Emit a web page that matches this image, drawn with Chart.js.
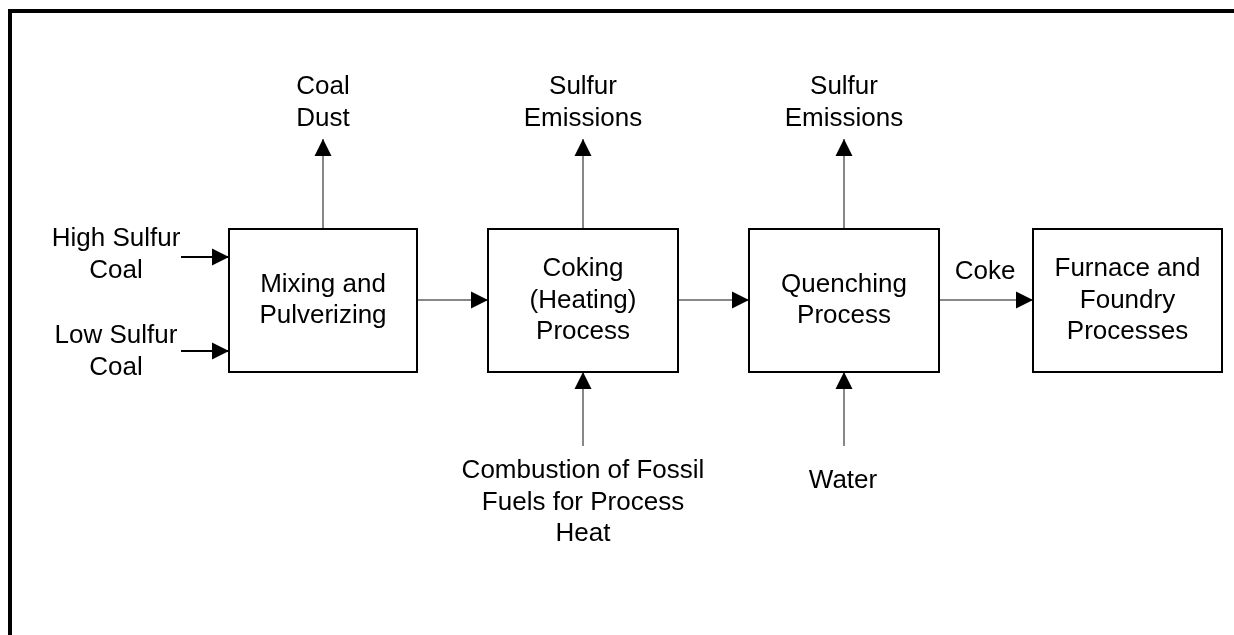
<!DOCTYPE html>
<html lang="en">
<head>
    <meta charset="UTF-8">
    <title>Coke Production Flow</title>
    <script src="https://cdn.jsdelivr.net/npm/chart.js"></script>
    <style>
        html, body {
            margin: 0;
            padding: 0;
            background: #fff;
        }
        .chart-container {
            width: 1234px;
            height: 635px;
            position: relative;
        }
    </style>
</head>
<body>
    <div class="chart-container">
        <canvas id="flowChart"></canvas>
    </div>

    <script>
        // diagram units: x 0..1234, y 0..635 (top down)
        const boxLabels = [
            ['Mixing and', 'Pulverizing'],
            ['Coking', '(Heating)', 'Process'],
            ['Quenching', 'Process'],
            ['Furnace and', 'Foundry', 'Processes']
        ];
        const boxLeft = [229, 488, 749, 1033];
        const boxRight = [417, 678, 939, 1222];
        const boxTop = [229, 229, 229, 229];
        const boxBottom = [372, 372, 372, 372];

        const arrowStartX = [181, 181, 417, 678, 939, 323, 583, 844, 583, 844];
        const arrowStartY = [257, 351, 300, 300, 300, 229, 229, 229, 446, 446];
        const arrowEndX   = [229, 229, 488, 749, 1033, 323, 583, 844, 583, 844];
        const arrowEndY   = [257, 351, 300, 300, 300, 139, 139, 139, 372, 372];
        const arrowWeight = [2, 2, 1, 1, 1, 1, 1, 1, 1, 1];

        const labelText = [
            ['Coal', 'Dust'],
            ['Sulfur', 'Emissions'],
            ['Sulfur', 'Emissions'],
            ['High Sulfur', 'Coal'],
            ['Low Sulfur', 'Coal'],
            ['Coke'],
            ['Combustion of Fossil', 'Fuels for Process', 'Heat'],
            ['Water']
        ];
        const labelX = [323, 583, 844, 116, 116, 985, 583, 843];
        const labelY = [87, 87, 87, 239, 336, 272, 471, 481];

        const frameX = [10, 10, 1234];
        const frameY = [635, 11, 11];

        const LINE_GAP = 31.5;
        const FONT = "26px 'Liberation Sans', Arial, Helvetica, sans-serif";

        const datasets = [];

        datasets.push({
            label: 'frame',
            data: frameX.map((x, i) => ({ x: x, y: frameY[i] })),
            borderColor: '#000',
            borderWidth: 4,
            borderJoinStyle: 'miter'
        });

        boxLabels.forEach((lines, i) => {
            datasets.push({
                label: 'box' + i,
                data: [
                    { x: boxLeft[i], y: boxTop[i] },
                    { x: boxRight[i], y: boxTop[i] },
                    { x: boxRight[i], y: boxBottom[i] },
                    { x: boxLeft[i], y: boxBottom[i] },
                    { x: boxLeft[i], y: boxTop[i] }
                ],
                borderColor: '#000',
                borderWidth: 2,
                borderJoinStyle: 'miter',
                borderCapStyle: 'square'
            });
        });

        arrowStartX.forEach((x, i) => {
            datasets.push({
                label: 'arrow' + i,
                arrow: true,
                data: [
                    { x: x, y: arrowStartY[i] },
                    { x: arrowEndX[i], y: arrowEndY[i] }
                ],
                borderColor: arrowWeight[i] > 1 ? '#000' : '#111',
                borderWidth: arrowWeight[i]
            });
        });

        const diagramPlugin = {
            id: 'diagram',
            afterDatasetsDraw(chart) {
                const ctx = chart.ctx;
                const xs = chart.scales.x;
                const ys = chart.scales.y;

                // arrowheads
                chart.data.datasets.forEach(ds => {
                    if (!ds.arrow) return;
                    const a = ds.data[0], b = ds.data[1];
                    const x1 = xs.getPixelForValue(a.x), y1 = ys.getPixelForValue(a.y);
                    const x2 = xs.getPixelForValue(b.x), y2 = ys.getPixelForValue(b.y);
                    const ang = Math.atan2(y2 - y1, x2 - x1);
                    const len = 17, half = 8.5;
                    ctx.save();
                    ctx.translate(x2, y2);
                    ctx.rotate(ang);
                    ctx.beginPath();
                    ctx.moveTo(0, 0);
                    ctx.lineTo(-len, -half);
                    ctx.lineTo(-len, half);
                    ctx.closePath();
                    ctx.fillStyle = '#000';
                    ctx.fill();
                    ctx.restore();
                });

                ctx.save();
                ctx.font = FONT;
                ctx.fillStyle = '#000';
                ctx.textAlign = 'center';
                ctx.textBaseline = 'middle';

                // box captions
                boxLabels.forEach((lines, i) => {
                    const cx = xs.getPixelForValue((boxLeft[i] + boxRight[i]) / 2);
                    const cy = ys.getPixelForValue((boxTop[i] + boxBottom[i]) / 2);
                    const y0 = cy - (lines.length - 1) * LINE_GAP / 2;
                    lines.forEach((t, k) => ctx.fillText(t, cx, y0 + k * LINE_GAP));
                });

                // stream labels
                labelText.forEach((lines, i) => {
                    const cx = xs.getPixelForValue(labelX[i]);
                    const cy = ys.getPixelForValue(labelY[i]);
                    lines.forEach((t, k) => ctx.fillText(t, cx, cy + k * LINE_GAP));
                });
                ctx.restore();
            }
        };

        new Chart(document.getElementById('flowChart'), {
            type: 'scatter',
            data: { datasets: datasets },
            options: {
                responsive: true,
                maintainAspectRatio: false,
                animation: false,
                showLine: true,
                layout: { padding: 0 },
                elements: {
                    point: { radius: 0, hoverRadius: 0 },
                    line: { tension: 0, fill: false }
                },
                plugins: {
                    legend: { display: false },
                    tooltip: { enabled: false }
                },
                scales: {
                    x: { type: 'linear', min: 0, max: 1234, display: false },
                    y: { type: 'linear', min: 0, max: 635, reverse: true, display: false }
                }
            },
            plugins: [diagramPlugin]
        });
    </script>
</body>
</html>
